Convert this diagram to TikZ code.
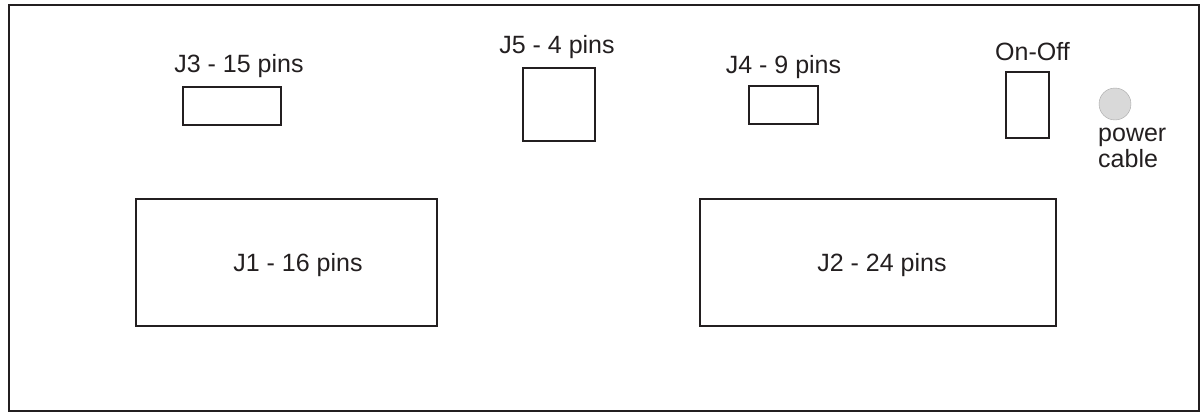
\documentclass[tikz,border=0pt]{standalone}
\usepackage{fontspec}
\setmainfont{Liberation Sans}
\usetikzlibrary{positioning}
\definecolor{ink}{HTML}{231F20}
\definecolor{knob}{HTML}{D9D9D9}
\definecolor{knobrim}{HTML}{A6A6A6}

\begin{document}
\begin{tikzpicture}[x=1pt, y=-1pt,
      font=\fontsize{25}{26}\selectfont, text=ink,
      frame/.style={draw=ink, line width=2pt},
      conn/.style={draw=ink, line width=2pt, inner sep=0pt},
      lbl/.style={inner sep=0pt, text depth=0pt}]
    \useasboundingbox (0,0) rectangle (1201,412);
    \draw[frame] (8.5,5.5) rectangle (1198.5,410.5);
    % small connectors on top row
    \node[conn, minimum width=98pt, minimum height=38pt] (j3) at (232,106) {};
    \node[conn, minimum width=72pt, minimum height=73pt] (j5) at (559,104.5) {};
    \node[conn, minimum width=69pt, minimum height=38pt] (j4) at (783.5,105) {};
    \node[conn, minimum width=43pt, minimum height=66pt] (onoff) at (1027.5,105) {};
    \node[lbl, above=13pt of j3, xshift=7pt] (j3lbl) {J3 - 15 pins};
    \node[lbl, above=13pt of j5, xshift=-2pt] (j5lbl) {J5 - 4 pins};
    \node[lbl, above=11pt of j4] (j4lbl) {J4 - 9 pins};
    \node[lbl, above=10pt of onoff, xshift=5pt] (onofflbl) {On-Off};
    \node[circle, draw=knobrim, fill=knob, minimum size=32pt, inner sep=0pt] (pwr) at (1115,104) {};
    \node[lbl, align=left, anchor=base west] (pwrlbl) at (1098,167) {power\\cable};
    % big connectors
    \node[conn, minimum width=301pt, minimum height=127pt] (j1) at (286.5,262.5) {};
    \node[conn, minimum width=356pt, minimum height=127pt] (j2) at (878,262.5) {};
    \node[lbl] (j1lbl) at (298,262) {J1 - 16 pins};
    \node[lbl] (j2lbl) at (882,262) {J2 - 24 pins};
  \end{tikzpicture}
\end{document}
